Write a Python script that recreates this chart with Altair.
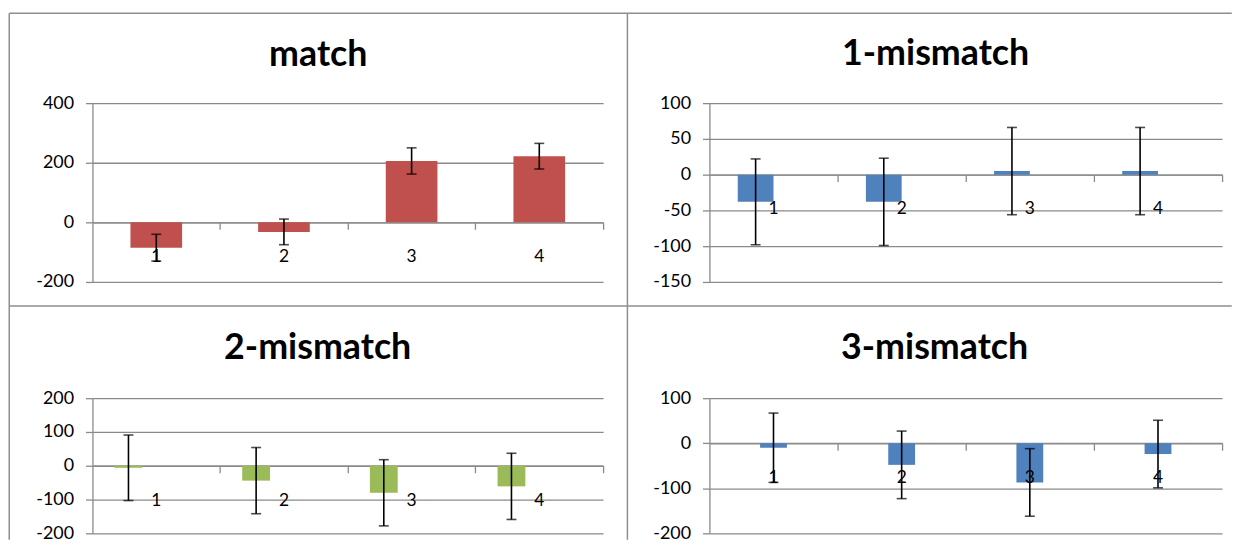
import altair as alt
import pandas as pd

# ---- data ----
cats = ["1", "2", "3", "4"]

match_vals = [-85, -32, 206, 222]
match_err = [45, 43, 44, 43]

mm1_vals = [-38, -38, 5, 5]
mm1_err = [60, 61, 61, 61]

mm2_vals = [-6, -44, -80, -61]
mm2_err = [97, 98, 98, 98]

mm3_vals = [-10, -48, -87, -24]
mm3_err = [77, 75, 75, 75]

titles = ["match", "1-mismatch", "2-mismatch", "3-mismatch"]

# ---- style ----
FONT = "Lato"
GRID = "#8a8a8a"
BORDER = "#8e8e8e"
W1, W2 = 514, 516
H_TOP, H_BOT = 180, 136
HSPACE, VSPACE = 107, 117
OX1 = 92.25
OY1 = 101.5


def panel(title, vals, errs, color, domain, ticks, W, H, bar_size, x_off,
          title_xy, extra_lines=None):
    df = pd.DataFrame({"cat": cats, "v": vals, "e": errs, "zero": [0] * len(cats)})
    base = alt.Chart(df).transform_calculate(
        lo="datum.v - datum.e", hi="datum.v + datum.e"
    )
    lo_d, hi_d = domain
    zero_px = H * hi_d / (hi_d - lo_d)
    x_axis_offset = -(H - zero_px)

    xenc = alt.X(
        "cat:N",
        sort=cats,
        scale=alt.Scale(paddingInner=0, paddingOuter=0),
        axis=alt.Axis(
            labels=False, title=None, grid=False, offset=x_axis_offset,
            bandPosition=1, tickSize=7, tickColor=GRID, tickWidth=1.3,
            domainColor=GRID, domainWidth=1.3,
        ),
    )
    yax = alt.Axis(
        values=ticks, title=None, grid=True, gridColor=GRID, gridWidth=1.3,
        domainColor=GRID, domainWidth=1.3, tickColor=GRID, tickWidth=1.3,
        tickSize=7, labelFont=FONT, labelFontSize=18, labelColor="black",
        labelPadding=12, labelExpr="'' + datum.value",
    )
    ysc = alt.Scale(domain=domain, nice=False)

    bars = base.mark_bar(size=bar_size, color=color, xOffset=x_off).encode(
        x=xenc, y=alt.Y("v:Q", scale=ysc, axis=yax)
    )
    err = base.mark_rule(color="black", strokeWidth=1.6, xOffset=x_off).encode(
        x=xenc, y=alt.Y("lo:Q", scale=ysc, axis=yax), y2="hi:Q"
    )
    cap_lo = base.mark_tick(color="black", size=10, thickness=1.6,
                            orient="horizontal", xOffset=x_off).encode(
        x=xenc, y=alt.Y("lo:Q", scale=ysc, axis=yax)
    )
    cap_hi = base.mark_tick(color="black", size=10, thickness=1.6,
                            orient="horizontal", xOffset=x_off).encode(
        x=xenc, y=alt.Y("hi:Q", scale=ysc, axis=yax)
    )
    labels = base.mark_text(dy=35, font=FONT, fontSize=17.5, color="black",
                            baseline="middle").encode(
        x=xenc, y=alt.Y("zero:Q", scale=ysc, axis=yax), text="cat:N"
    )
    ttl = alt.Chart(pd.DataFrame({"t": [title]})).mark_text(
        font=FONT, fontSize=36, fontWeight="bold", align="center",
        baseline="alphabetic", color="black",
    ).encode(x=alt.value(title_xy[0]), y=alt.value(title_xy[1]), text="t:N")

    layers = [bars, err, cap_lo, cap_hi, labels, ttl]
    if extra_lines:
        one = pd.DataFrame({"k": [0]})
        for (ax, ay, bx, by) in extra_lines:
            layers.append(
                alt.Chart(one).mark_rule(color=BORDER, strokeWidth=1.5).encode(
                    x=alt.value(ax), y=alt.value(ay),
                    x2=alt.value(bx), y2=alt.value(by),
                )
            )
    return alt.layer(*layers).properties(width=W, height=H)


def rel(x1, y1, x2, y2):
    return (x1 - OX1, y1 - OY1, x2 - OX1, y2 - OY1)


border_lines = [
    rel(8.5, 11, 630.7, 11),        # top of upper row
    rel(630.7, 11, 1239, 11),
    rel(8.5, 11, 8.5, 305.7),       # left edges
    rel(8.5, 305.7, 8.5, 541),
    rel(630.7, 11, 630.7, 305.7),   # middle separator
    rel(630.7, 305.7, 630.7, 541),
    rel(8.5, 305.7, 1239, 305.7),   # row separator
]

p1 = panel(titles[0], match_vals, match_err, "#C0504D", [-200, 400],
           [-200, 0, 200, 400], W1, H_TOP, 52, 0, (227.3, -37.5), border_lines)
p2 = panel(titles[1], mm1_vals, mm1_err, "#4F81BD", [-150, 100],
           [-150, -100, -50, 0, 50, 100], W2, H_TOP, 36, -18, (227.7, -38.2))
p3 = panel(titles[2], mm2_vals, mm2_err, "#9BBB59", [-200, 200],
           [-200, -100, 0, 100, 200], W1, H_BOT, 28, -28, (226.7, -39.2))
p4 = panel(titles[3], mm3_vals, mm3_err, "#4F81BD", [-200, 100],
           [-200, -100, 0, 100], W2, H_BOT, 27, 0, (226.7, -39.5))

chart = (
    alt.concat(p1, p2, p3, p4, columns=2,
               spacing={"row": VSPACE, "column": HSPACE},
               bounds="flush", align="each")
    .properties(padding={"left": 0, "top": 2, "right": 0, "bottom": 0})
    .configure_view(stroke=None)
)

chart.save("out.html", embed_options={"renderer": "svg", "actions": False})
